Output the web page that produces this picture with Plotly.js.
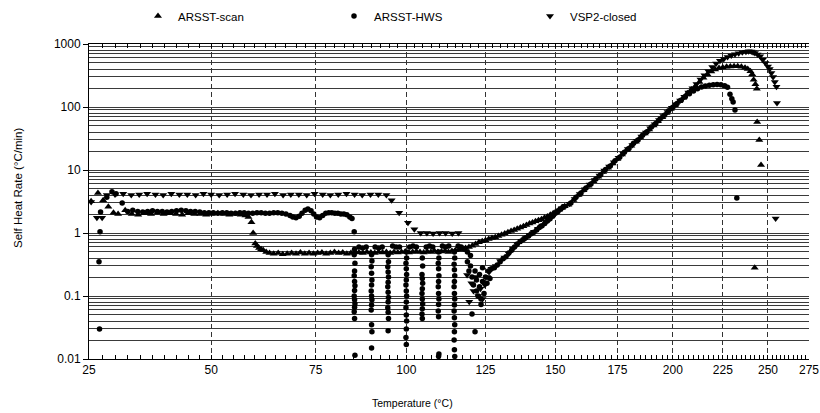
<!DOCTYPE html>
<html>
<head>
<meta charset="utf-8">
<script src="https://cdn.plot.ly/plotly-3.0.1.min.js"></script>
<style>
html,body{margin:0;padding:0;background:#fff;}
#chart{width:820px;height:413px;}
</style>
</head>
<body>
<div id="chart"></div>
<script>
// ---------- tick labels ----------
const xTickLabels = [25, 50, 75, 100, 125, 150, 175, 200, 225, 250, 275];
const yTickVals = [0.01, 0.1, 1, 10, 100, 1000];
const yTickText = ['0.01', '0.1', '1', '10', '100', '1000'];

// ---------- ARSST-scan (temperature °C, self heat rate °C/min) ----------
const scanT = [25.4,26.7,27.7,28.7,29.7,30.6,32.0,33.3,34.6,35.9,37.2,38.5,39.8,41.1,42.4,43.7,45.0,46.3,47.6,48.9,50.2,51.5,52.8,54.1,55.4,56.7,57.8,58.5,59.2,59.6,60.1,60.5,61.0,61.5,62.0,62.7,63.5,
64.5,65.6,66.7,67.8,68.9,70.0,71.1,72.2,73.3,74.4,75.5,76.6,77.7,78.8,79.9,81.0,82.1,83.2,84.3,85.4,86.5,87.6,88.7,89.8,90.9,92.0,93.1,94.2,95.3,96.4,97.5,98.6,99.7,100.8,101.9,103.0,104.1,105.2,106.3,107.4,108.5,109.6,110.7,111.8,112.9,114.0,115.1,116.2,
117.3,118.4,119.5,120.6,121.7,122.8,123.9,125.0,126.1,127.2,128.3,129.4,130.5,131.6,132.7,133.8,134.9,136.0,137.1,138.2,139.3,140.4,141.5,142.6,143.7,144.8,145.9,147.0,148.1,149.2,150.3,151.4,152.5,153.6,
155,157,159,161,163,165,167,169,171,173,175,177,179,181,183,185,187,189,191,193,195,197,199,201,203,205,
207,209,211,213,215,217,219,221,223,225,227,229,231,233,235,237,238.5,240,241,241.8,242.8,243.6,243.8,245,246,242.4];
const scanRate = [3.2,4.3,3.3,2.6,2.1,2.0,2.3,2.0,1.95,2.05,2.0,2.1,2.0,2.05,2.0,1.95,2.05,2.0,2.0,1.95,2.0,2.05,2.0,1.95,2.0,1.95,1.9,1.8,1.48,1.0,0.68,0.62,0.58,0.55,0.53,0.5,0.48,
0.47,0.48,0.46,0.47,0.48,0.47,0.49,0.47,0.48,0.47,0.48,0.49,0.47,0.48,0.5,0.48,0.49,0.47,0.48,0.5,0.49,0.48,0.5,0.49,0.48,0.5,0.49,0.5,0.48,0.5,0.49,0.5,0.51,0.49,0.5,0.51,0.5,0.49,0.51,0.5,0.52,0.5,0.51,0.52,0.5,0.52,0.53,0.54,
0.56,0.58,0.6,0.63,0.67,0.71,0.74,0.77,0.8,0.83,0.86,0.9,0.94,0.98,1.03,1.08,1.12,1.17,1.22,1.28,1.34,1.41,1.47,1.53,1.6,1.66,1.74,1.83,1.94,2.05,2.2,2.35,2.5,2.65,
2.8,3.35,4.0,4.75,5.6,6.6,7.8,9.3,10.9,12.7,15,17.6,20.7,24.2,28.2,32.7,38,44,51,59.5,69,80,93,107,123,140,
165,190,215,250,290,330,365,395,415,425,435,440,445,445,435,420,400,370,330,270,230,195,58,30,12,0.28];

// ---------- ARSST-HWS ----------
const hwsT = [27.0,26.9,27.1,27.2,28.4,29.4,30.2,31.4,
32.5,33.5,34.5,35.5,36.5,37.5,38.5,39.5,40.5,41.5,42.5,43.5,44.5,45.5,46.5,47.5,48.5,49.5,50.5,51.5,52.5,53.5,54.5,55.5,56.5,57.5,58.5,59.5,60.5,61.5,62.5,63.5,64.5,65.5,66.5,67.5,68.5,69.2,70.0,70.8,71.5,72.3,73.0,73.8,74.5,75.2,76.0,76.8,77.6,78.4,79.2,80.0,80.8,81.6,82.4,83.2,84.0,84.6,85.2,
85.3,85.2,85.4,85.3,85.2,85.3,85.4,85.3,85.2,85.3,85.4,85.3,85.2,85.3,85.4,
86.5,87.5,88.5,
90.0,90.1,89.9,90.0,90.1,90.0,89.9,90.0,90.1,90.0,89.9,90.0,90.1,90.0,
91.0,92.0,93.0,
94.7,94.8,94.6,94.7,94.8,94.7,94.6,94.7,94.8,94.7,94.6,94.7,94.8,94.7,
96.0,97.0,98.0,
100.0,100.1,99.9,100.0,100.1,100.0,99.9,100.0,100.1,100.0,99.9,100.0,100.1,100.0,99.9,100.0,
101.0,102.0,103.0,
104.8,104.9,104.7,104.8,104.9,104.8,104.7,104.8,104.9,104.8,104.7,104.8,
106.0,107.0,108.0,
109.8,109.9,109.7,109.8,109.9,109.8,109.7,109.8,109.9,109.8,109.7,109.8,109.9,109.8,
111.0,112.0,113.0,
114.8,114.9,114.7,114.8,114.9,114.8,114.7,114.8,114.9,114.8,114.7,114.8,114.9,114.8,114.7,114.8,114.9,
116.0,117.0,118.0,119.0,120.0,
119.0,119.5,120.0,120.5,121.0,121.5,122.0,122.0,122.5,123.0,123.0,123.5,124.0,124.0,124.5,125.0,125.5,126.0,126.5,127.0,120.5,121.5,123.5,
128,129,130,131,132,133,134,135,136,137,138,139,140,141,142,143,144,145,146,147,148,149,150,151,152,153,
156,158,160,162,164,166,168,170,172,174,176,178,180,182,184,186,188,190,192,194,196,198,200,202,204,
206,208,210,212,214,216,218,220,222,224,226,227.5,228.8,229.8,230.5,231.5,232.5];
const hwsRate = [0.03,0.35,1.05,2.15,3.7,4.5,4.2,3.0,
2.2,2.3,2.2,2.15,2.2,2.25,2.2,2.2,2.15,2.2,2.25,2.3,2.25,2.2,2.2,2.15,2.1,2.1,2.1,2.05,2.1,2.1,2.05,2.05,2.1,2.1,2.05,2.05,2.1,2.1,2.05,2.05,2.1,2.1,2.05,2.0,1.9,1.8,1.75,1.85,2.05,2.3,2.4,2.25,2.0,1.8,1.75,1.9,2.05,2.1,2.1,2.05,2.05,2.0,2.0,1.95,1.8,1.7,1.05,
0.55,0.45,0.33,0.25,0.21,0.17,0.146,0.122,0.1,0.087,0.075,0.066,0.056,0.044,0.0115,
0.6,0.58,0.6,
0.45,0.36,0.29,0.23,0.18,0.15,0.12,0.1,0.087,0.072,0.06,0.035,0.027,0.015,
0.6,0.58,0.6,
0.45,0.35,0.29,0.24,0.2,0.165,0.14,0.115,0.095,0.08,0.065,0.055,0.044,0.028,
0.62,0.6,0.6,
0.5,0.4,0.33,0.27,0.22,0.18,0.15,0.12,0.1,0.08,0.065,0.05,0.04,0.03,0.022,0.017,
0.6,0.62,0.6,
0.4,0.3,0.22,0.19,0.16,0.13,0.11,0.09,0.075,0.063,0.052,0.044,
0.6,0.62,0.6,
0.5,0.4,0.33,0.27,0.21,0.17,0.14,0.11,0.09,0.073,0.058,0.047,0.012,0.011,
0.62,0.6,0.62,
0.5,0.4,0.32,0.26,0.21,0.17,0.14,0.11,0.09,0.072,0.058,0.045,0.035,0.027,0.02,0.014,0.011,
0.62,0.6,0.55,0.5,0.44,
0.35,0.25,0.3,0.2,0.15,0.25,0.12,0.18,0.1,0.22,0.14,0.09,0.17,0.28,0.11,0.2,0.16,0.25,0.19,0.27,0.052,0.027,0.073,
0.28,0.31,0.35,0.39,0.42,0.48,0.53,0.6,0.67,0.73,0.78,0.84,0.9,0.97,1.03,1.12,1.22,1.3,1.42,1.55,1.68,1.85,2.05,2.2,2.4,2.6,
3.0,3.7,4.3,5.2,6.0,7.2,8.4,10.2,11.6,14,16,19.2,22,26.5,30,35.5,40.5,48,54.5,64.5,74,87,99,114,128,
145,163,180,195,208,216,222,226,228,225,218,205,160,135,120,90,3.6];

// ---------- VSP2-closed ----------
const vspT = [25.4,26.5,27.5,28.4,
30.0,31.6,33.2,34.8,36.4,38.1,39.7,41.4,43.1,44.8,46.6,48.3,50.0,51.8,53.6,55.4,57.3,59.1,61.0,62.9,64.8,66.8,68.7,70.7,72.7,74.7,76.8,78.8,80.9,83.1,85.3,87.4,89.7,91.9,94.2,
95.7,97.9,100.5,102.4,104.3,106.2,108.1,110.1,112.0,114.1,116.1,118.9,119.6,
120.3,121.0,121.8,122.6,123.3,124.0,124.8,125.5,126.2,127.0,
128.5,130,131.5,133,134.5,136,137.5,139,140.5,142,143.5,145,146.5,148,149.5,151,152.5,154,
155.5,157.5,159.5,161.5,163.5,165.5,167.5,169.5,171.5,173.5,175.5,177.5,179.5,181.5,183.5,185.5,187.5,189.5,191.5,193.5,195.5,197.5,199.5,201.5,203.5,205.5,
207.5,209.5,211.5,213.5,215.5,217.5,219.5,221.5,223.5,225.5,227.5,229.5,231.5,233.5,235.5,237.5,239,240.5,241.5,242.5,244,245.5,247,248.5,250,251,252,253,254,255,255.3,254.5];
const vspRate = [3.1,1.75,1.75,4.0,
4.1,4.2,4.0,4.1,4.2,4.1,4.0,4.2,4.1,4.1,4.0,4.2,4.1,4.0,4.1,4.2,4.1,4.0,4.1,4.1,4.2,4.0,4.1,4.1,4.0,4.2,4.1,4.0,4.1,4.2,4.1,4.0,4.1,4.1,4.0,
3.3,2.1,1.45,1.15,1.0,1.0,0.98,1.0,1.0,0.98,1.0,0.215,0.081,
0.16,0.12,0.2,0.1,0.13,0.09,0.15,0.2,0.24,0.27,
0.3,0.36,0.41,0.47,0.56,0.66,0.75,0.83,0.93,1.05,1.17,1.32,1.5,1.7,1.95,2.2,2.45,2.7,
2.9,3.45,4.15,4.95,5.9,6.95,8.2,9.8,11.4,13.3,15.6,18.2,21.5,25,29.2,34,39.5,46,53,62,72,83,97,111,127,146,
170,198,232,272,318,370,430,490,540,580,620,655,685,715,740,755,765,760,740,720,680,640,560,500,440,400,345,300,250,210,116,1.7];

// ---------- axis helpers (1/T axis, °C labels) ----------
function toX(t) { return -1000 / (t + 273.15); }
const xMajorVals = xTickLabels.map(toX);
const xMinorVals = [];
for (let t = 25; t <= 275; t += 2.5) { if (t % 25 !== 0) xMinorVals.push(toX(t)); }
const yMinorVals = [];
[0.01, 0.1, 1, 10, 100].forEach(d => { for (let k = 2; k <= 9; k++) yMinorVals.push(d * k); });

const FONT = 'Liberation Sans, Arial, sans-serif';

function mk(name, T, R, symbol, size) {
  return {
    type: 'scatter', mode: 'markers', name: name,
    x: T.map(toX), y: R,
    marker: {symbol: symbol, size: size, color: '#000', line: {width: 0}},
    hoverinfo: 'skip'
  };
}

const data = [
  mk('ARSST-scan', scanT, scanRate, 'triangle-up', 7),
  mk('ARSST-HWS', hwsT, hwsRate, 'circle', 5.5),
  mk('VSP2-closed', vspT, vspRate, 'triangle-down', 7)
];

const W = 820, H = 413, L = 89, R = 11, T = 44, B = 54;
const pw = W - L - R, ph = H - T - B;
function px(x) { return (x - L) / pw; }
function py(y) { return (H - B - y) / ph; }

const layout = {
  width: W, height: H,
  margin: {l: L, r: R, t: T, b: B, pad: 0, autoexpand: false},
  paper_bgcolor: '#fff', plot_bgcolor: '#fff',
  font: {family: FONT, size: 12, color: '#000'},
  showlegend: true,
  legend: {
    orientation: 'h', x: px(138), y: py(16), xanchor: 'left', yanchor: 'middle',
    font: {family: FONT, size: 11.5, color: '#000'},
    entrywidth: 151, entrywidthmode: 'pixels',
    bgcolor: 'rgba(0,0,0,0)', borderwidth: 0, itemsizing: 'trace'
  },
  xaxis: {
    type: 'linear',
    range: [toX(25), toX(275)],
    tickmode: 'array', tickvals: xMajorVals, ticktext: xTickLabels.map(String),
    ticks: 'inside', ticklen: 4, tickcolor: '#000', tickwidth: 1,
    showline: true, linecolor: '#000', linewidth: 1, mirror: 'ticks',
    showgrid: true, gridcolor: '#333', gridwidth: 1, griddash: '5px,3px',
    zeroline: false,
    tickfont: {family: FONT, size: 12, color: '#000'},
    minor: {tickmode: 'array', tickvals: xMinorVals, ticks: 'inside', ticklen: 4, tickcolor: '#000', tickwidth: 1, showgrid: false}
  },
  yaxis: {
    type: 'log',
    range: [-2, 3],
    tickmode: 'array', tickvals: yTickVals, ticktext: yTickText,
    ticks: 'outside', ticklen: 5, tickcolor: '#000', tickwidth: 1,
    showline: true, linecolor: '#000', linewidth: 1, mirror: false,
    showgrid: true, gridcolor: '#3a3a3a', gridwidth: 1,
    zeroline: false,
    tickfont: {family: FONT, size: 12, color: '#000'},
    minor: {tickmode: 'array', tickvals: yMinorVals, ticks: '', showgrid: true, gridcolor: '#3a3a3a', gridwidth: 1}
  },
  annotations: [
    {text: 'Temperature (°C)', xref: 'paper', yref: 'paper', x: px(412), y: py(403),
     xanchor: 'center', yanchor: 'middle', showarrow: false, font: {family: FONT, size: 10.5, color: '#000'}},
    {text: 'Self Heat Rate (°C/min)', xref: 'paper', yref: 'paper', x: px(18), y: py(188),
     xanchor: 'center', yanchor: 'middle', textangle: -90, showarrow: false, font: {family: FONT, size: 11.5, color: '#000'}}
  ]
};

Plotly.newPlot('chart', data, layout, {displayModeBar: false, staticPlot: true});
</script>
</body>
</html>
